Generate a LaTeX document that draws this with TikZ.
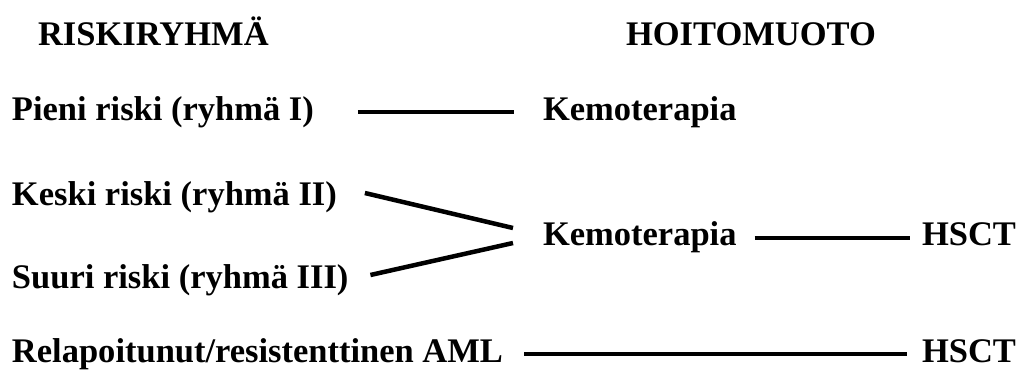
\documentclass[tikz,border=0pt]{standalone}
\usepackage{fontspec}
\setmainfont{Liberation Serif}
\usetikzlibrary{calc}
\tikzset{
  lbl/.style={anchor=base west, inner sep=0pt, outer sep=0pt,
    font=\fontsize{34.5}{40}\selectfont\bfseries},
  link/.style={line width=4.5pt, line cap=butt}
}
\begin{document}
\begin{tikzpicture}[x=1pt, y=-1pt]
  \useasboundingbox (0,0) rectangle (1022,370);
  % column headings
  \node[lbl] (h1) at (38,45) {RISKIRYHMÄ};
  \node[lbl] (h2) at (626,45) {HOITOMUOTO};
  % risk groups
  \node[lbl] (p1) at (12,120) {Pieni riski (ryhmä I)};
  \node[lbl] (p2) at (12,205) {Keski riski (ryhmä II)};
  \node[lbl] (p3) at (12,288) {Suuri riski (ryhmä III)};
  \node[lbl] (p4) at (12,362) {Relapoitunut/resistenttinen AML};
  % treatments
  \node[lbl] (k1) at (543,120) {Kemoterapia};
  \node[lbl] (k2) at (543,245) {Kemoterapia};
  \node[lbl] (s1) at (922,245) {HSCT};
  \node[lbl] (s2) at (922,362) {HSCT};
  % connectors
  \draw[link] ($(p1.base east)+(44,-8)$) -- ($(k1.base west)+(-29,-8)$);
  \draw[link] ($(p2.base east)+(28,-12)$) -- ($(k2.base west)+(-30,-17)$);
  \draw[link] ($(p3.base east)+(22,-13)$) -- ($(k2.base west)+(-30,-2)$);
  \draw[link] ($(k2.base east)+(18,-7)$) -- ($(s1.base west)+(-12,-7)$);
  \draw[link] ($(p4.base east)+(21,-8)$) -- ($(s2.base west)+(-15,-8)$);
\end{tikzpicture}
\end{document}
